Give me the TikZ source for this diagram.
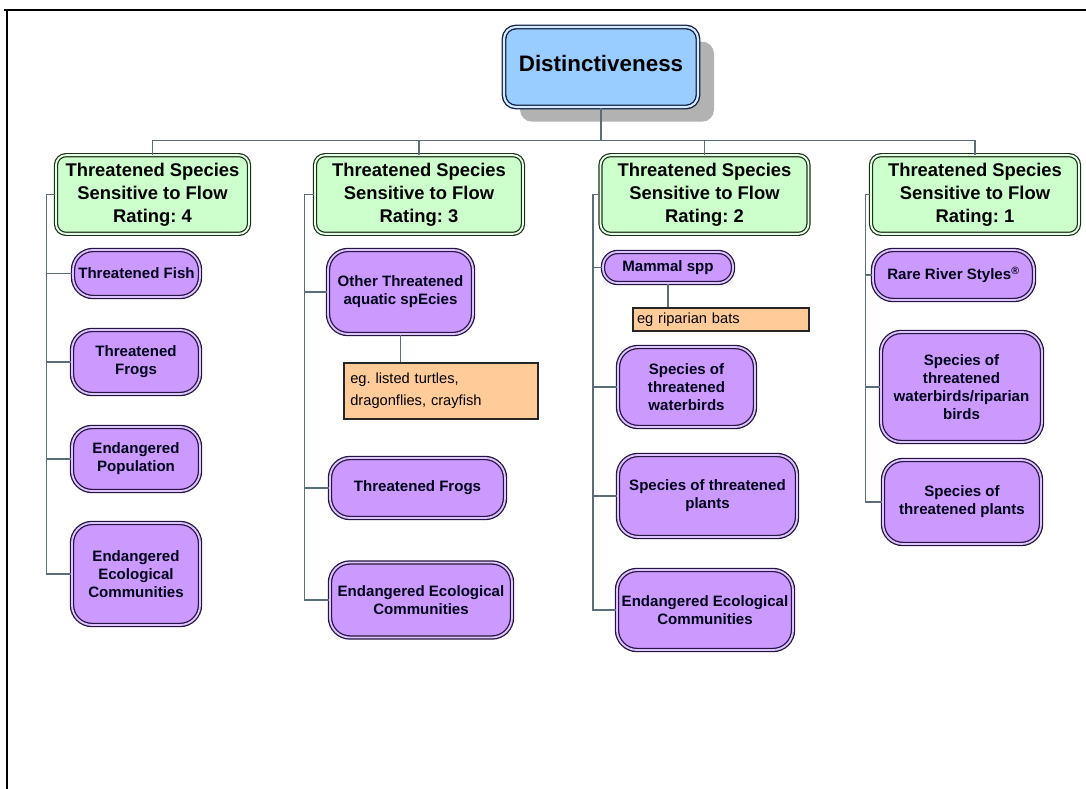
\documentclass[tikz,border=0pt]{standalone}
\usepackage{fontspec}
\setmainfont{Liberation Sans}
\usetikzlibrary{shadows}
\definecolor{lav}{RGB}{204,153,255}
\definecolor{lavgap}{RGB}{222,196,255}
\definecolor{lavline}{RGB}{36,20,64}
\definecolor{mint}{RGB}{204,255,204}
\definecolor{mintgap}{RGB}{230,255,230}
\definecolor{mintline}{RGB}{28,50,28}
\definecolor{sky}{RGB}{153,204,255}
\definecolor{skygap}{RGB}{215,235,255}
\definecolor{skyline}{RGB}{15,30,70}
\definecolor{peach}{RGB}{255,204,153}
\definecolor{connc}{RGB}{90,110,122}
\frenchspacing
\begin{document}
\begin{tikzpicture}[x=0.75pt,y=-0.75pt,
  topbox/.style={draw=skyline, fill=sky, double=skygap, double distance=1.6pt, line width=1pt,
    rounded corners=9pt, minimum width=145.5pt, minimum height=60pt, inner sep=0pt,
    font=\fontsize{16.8}{20}\selectfont\bfseries,
    drop shadow={shadow xshift=12pt, shadow yshift=-11pt, fill=black!30, opacity=1}},
  greenbox/.style={draw=mintline, fill=mint, double=mintgap, double distance=1.4pt, line width=0.9pt,
    rounded corners=7.5pt, minimum width=156pt, minimum height=59pt, inner sep=0pt, align=center,
    font=\fontsize{13.8}{17.3}\selectfont\bfseries},
  pbox/.style={draw=lavline, fill=lav, double=lavgap, double distance=1.4pt, line width=0.95pt,
    rounded corners=15pt, inner sep=0pt, align=center, text=black!90!blue,
    font=\fontsize{11.3}{13.5}\selectfont\bfseries},
  obox/.style={draw=black!85, fill=peach, line width=0.9pt, inner sep=0pt, align=left,
    font=\fontsize{11}{16.5}\selectfont},
  conn/.style={draw=connc, line width=1.1pt}]
\useasboundingbox (0,0) rectangle (1086,789);
\draw[line width=1.5pt] (4,10) -- (1086,10);
\draw[line width=1.5pt] (7,10) -- (7,789);

% top
\node[topbox] (top) at (601,67) {\raisebox{6pt}{Distinctiveness}};

% green boxes
\node[greenbox, minimum width=144.75pt] (g1) at (152.5,194.5) {Threatened Species\\Sensitive to Flow\\Rating: 4};
\node[greenbox] (g2) at (419,194.5) {Threatened Species\\Sensitive to Flow\\Rating: 3};
\node[greenbox] (g3) at (704.5,194.5) {Threatened Species\\Sensitive to Flow\\Rating: 2};
\node[greenbox] (g4) at (975,194.5) {Threatened Species\\Sensitive to Flow\\Rating: 1};

% column 1
\node[pbox, minimum width=95.25pt, minimum height=35.25pt] (p11) at (136.5,273.5) {Threatened Fish};
\node[pbox, minimum width=96pt, minimum height=48pt] (p12) at (136,362) {Threatened\\Frogs};
\node[pbox, minimum width=96pt, minimum height=48pt] (p13) at (136,459) {Endangered\\Population};
\node[pbox, minimum width=96pt, minimum height=76.5pt] (p14) at (136,574) {Endangered\\Ecological\\Communities};

% column 2
\node[pbox, minimum width=108.75pt, minimum height=63pt] (p21) at (400.5,292) {Other Threatened\\aquatic spEcies};
\node[obox, minimum width=145.5pt, minimum height=42pt, text width=136pt] (o2) at (441,391) {eg. listed turtles,\\dragonflies, crayfish};
\node[pbox, minimum width=131.25pt, minimum height=45pt] (p22) at (417.5,488) {Threatened Frogs};
\node[pbox, minimum width=136.5pt, minimum height=56.25pt] (p23) at (421,600) {Endangered Ecological\\Communities};

% column 3
\node[pbox, rounded corners=11pt, minimum width=97.5pt, minimum height=23.25pt] (p31) at (668,267.5) {Mammal spp};
\node[obox, minimum width=132pt, minimum height=17.25pt, text width=126pt] (o3) at (721,319.5) {eg riparian bats};
\node[pbox, minimum width=102.75pt, minimum height=60pt] (p32) at (686.5,387) {Species of\\threatened\\waterbirds};
\node[pbox, minimum width=134.25pt, minimum height=61.5pt] (p33) at (707.5,496) {Species of threatened\\plants};
\node[pbox, minimum width=132pt, minimum height=60pt] (p34) at (705,610) {Endangered Ecological\\Communities};

% column 4
\node[pbox, minimum width=120.75pt, minimum height=37.5pt] (p41) at (953.5,275) {Rare River Styles\textsuperscript{\textregistered}};
\node[pbox, minimum width=120.75pt, minimum height=82.5pt] (p42) at (961.5,387) {Species of\\threatened\\waterbirds/riparian\\birds};
\node[pbox, minimum width=118.5pt, minimum height=63pt] (p43) at (962,502) {Species of\\threatened plants};

% bus
\draw[conn] (top.south) -- ++(0,33) coordinate (b0);
\draw[conn] (g1.north) |- (b0);
\draw[conn] (g2.north) |- (b0);
\draw[conn] (g3.north) |- (b0);
\draw[conn] (g4.north) |- (b0);

% spines
\foreach \c in {p11,p12,p13,p14}{\draw[conn] (g1.west) -- ++(-9,0) |- (\c.west);}
\foreach \c in {p21,p22,p23}{\draw[conn] (g2.west) -- ++(-10,0) |- (\c.west);}
\foreach \c in {p31,p32,p33,p34}{\draw[conn] (g3.west) -- ++(-7,0) |- (\c.west);}
\foreach \c in {p41,p42,p43}{\draw[conn] (g4.west) -- ++(-5,0) |- (\c.west);}

% example links
\draw[conn] (p21.south) -- (p21.south |- o2.north);
\draw[conn] (p31.south) -- (p31.south |- o3.north);
\end{tikzpicture}
\end{document}
